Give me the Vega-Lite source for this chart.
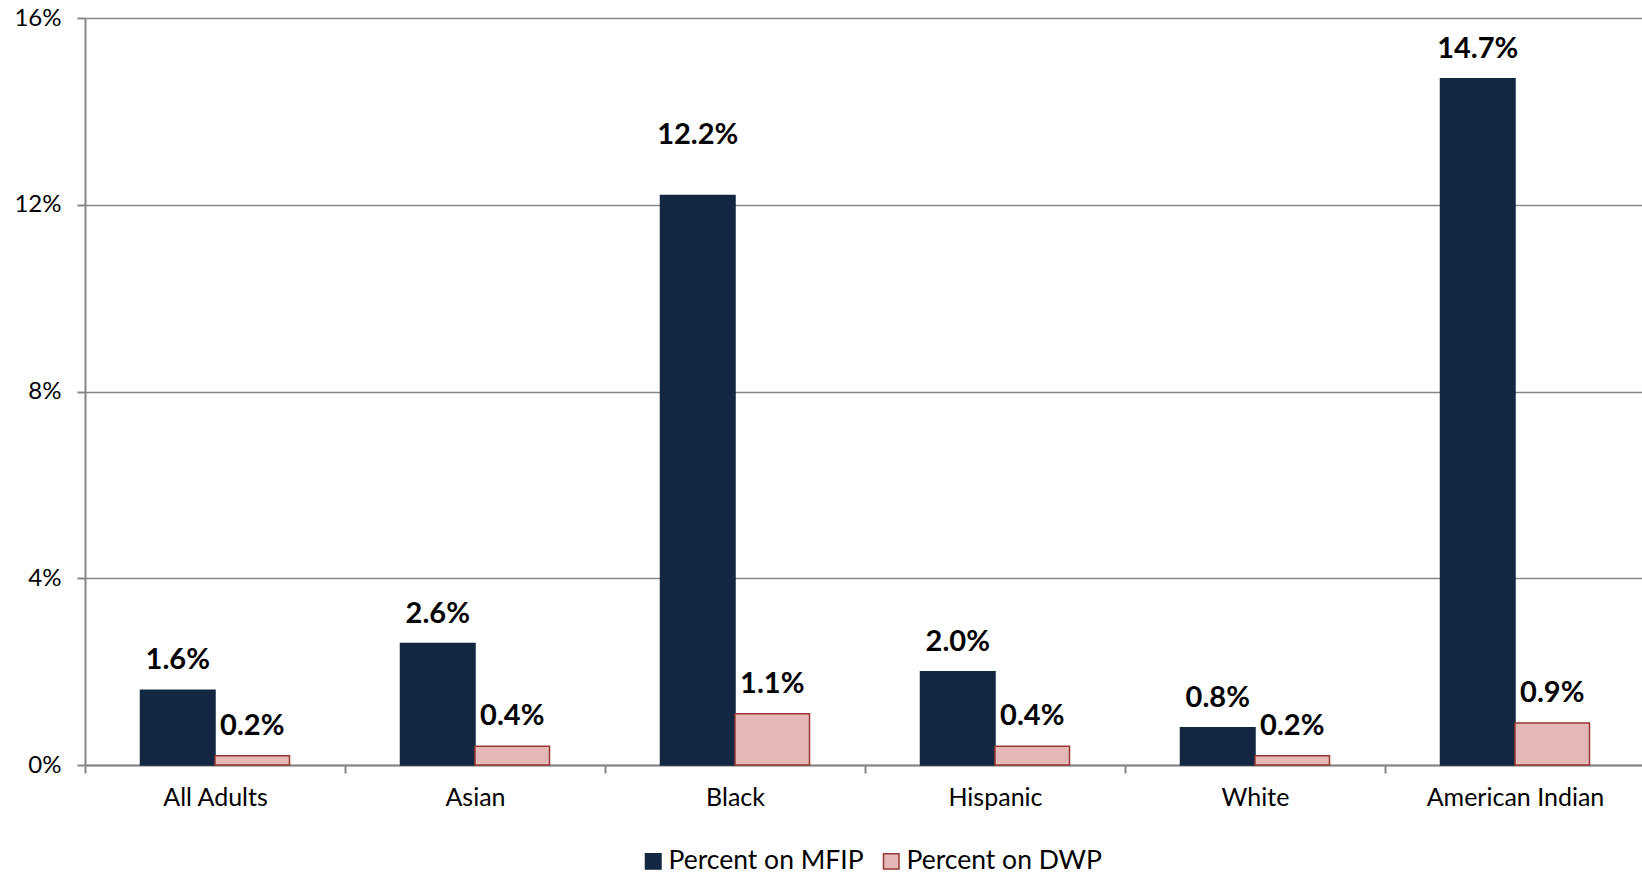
{
  "$schema": "https://vega.github.io/schema/vega-lite/v6.json",
  "autosize": {"type": "none"},
  "width": 1560,
  "height": 747,
  "padding": {"left": 85, "top": 18, "right": 0, "bottom": 111},
  "background": "white",
  "config": {
    "view": {"stroke": null},
    "font": "Lato",
    "axis": {"labelFont": "Lato", "labelColor": "#000000", "titleFont": "Lato"}
  },
  "data": {
    "values": [
      {"group": "All Adults", "series": "Percent on MFIP", "value": 0.016},
      {"group": "All Adults", "series": "Percent on DWP", "value": 0.002},
      {"group": "Asian", "series": "Percent on MFIP", "value": 0.026},
      {"group": "Asian", "series": "Percent on DWP", "value": 0.004},
      {"group": "Black", "series": "Percent on MFIP", "value": 0.122},
      {"group": "Black", "series": "Percent on DWP", "value": 0.011},
      {"group": "Hispanic", "series": "Percent on MFIP", "value": 0.020},
      {"group": "Hispanic", "series": "Percent on DWP", "value": 0.004},
      {"group": "White", "series": "Percent on MFIP", "value": 0.008},
      {"group": "White", "series": "Percent on DWP", "value": 0.002},
      {"group": "American Indian", "series": "Percent on MFIP", "value": 0.147},
      {"group": "American Indian", "series": "Percent on DWP", "value": 0.009}
    ]
  },
  "encoding": {
    "x": {
      "field": "group",
      "type": "nominal",
      "sort": null,
      "scale": {"paddingInner": 0, "paddingOuter": 0},
      "axis": {
        "title": null,
        "labelAngle": 0,
        "labelFontSize": 25,
        "labelPadding": 12,
        "tickBand": "extent",
        "tickSize": 8,
        "tickColor": "#868686",
        "domainColor": "#868686",
        "domainWidth": 2,
        "tickWidth": 2
      }
    },
    "xOffset": {
      "field": "series",
      "type": "nominal",
      "sort": ["Percent on MFIP", "Percent on DWP"],
      "scale": {"paddingInner": 0, "paddingOuter": 0.745}
    },
    "y": {
      "field": "value",
      "type": "quantitative",
      "scale": {"domain": [0, 0.16]},
      "axis": {
        "title": null,
        "values": [0, 0.04, 0.08, 0.12, 0.16],
        "format": ".0%",
        "labelFontSize": 24,
        "labelPadding": 16,
        "tickSize": 8,
        "tickColor": "#868686",
        "tickWidth": 2,
        "domainColor": "#868686",
        "domainWidth": 2,
        "gridColor": "#868686",
        "gridWidth": 1.5
      }
    }
  },
  "layer": [
    {
      "mark": {"type": "bar", "strokeWidth": 1.5},
      "encoding": {
        "fill": {
          "field": "series",
          "type": "nominal",
          "scale": {"domain": ["Percent on MFIP", "Percent on DWP"], "range": ["#132742", "#e6b9b8"]},
          "legend": {
            "title": null,
            "orient": "none",
            "direction": "horizontal",
            "legendX": 555,
            "legendY": 830,
            "symbolType": "square",
            "symbolSize": 240,
            "symbolStrokeWidth": 1.5,
            "labelFontSize": 26.5,
            "labelFont": "Lato",
            "labelColor": "#000000",
            "labelLimit": 400,
            "columnPadding": 14,
            "labelOffset": 2
          }
        },
        "stroke": {
          "field": "series",
          "type": "nominal",
          "scale": {"domain": ["Percent on MFIP", "Percent on DWP"], "range": ["#132742", "#953735"]},
          "legend": null
        }
      }
    },
    {
      "transform": [{"filter": "!(datum.group === 'Black' && datum.series === 'Percent on MFIP')"}],
      "mark": {"type": "text", "fontWeight": "bold", "fontSize": 29, "baseline": "alphabetic", "dy": -21, "color": "#000000"},
      "encoding": {
        "text": {"field": "value", "type": "quantitative", "format": ".1%"}
      }
    },
    {
      "transform": [{"filter": "datum.group === 'Black' && datum.series === 'Percent on MFIP'"}],
      "mark": {"type": "text", "fontWeight": "bold", "fontSize": 29, "baseline": "alphabetic", "dy": -51, "color": "#000000"},
      "encoding": {
        "text": {"field": "value", "type": "quantitative", "format": ".1%"}
      }
    }
  ]
}
